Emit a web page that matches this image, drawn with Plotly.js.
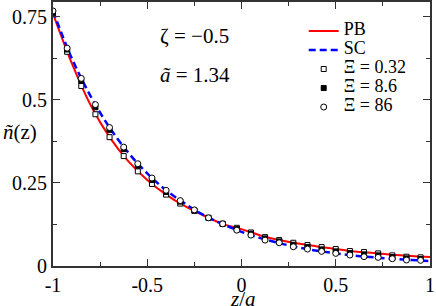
<!DOCTYPE html>
<html>
<head>
<meta charset="utf-8">
<script src="https://cdn.plot.ly/plotly-3.0.1.min.js"></script>
</head>
<body style="margin:0">
<div id="chart"></div>
<script>
// marker positions z/a
const zPts = [-1, -0.925, -0.85, -0.775, -0.7, -0.625, -0.55, -0.475, -0.4, -0.325, -0.25, -0.175, -0.1, -0.025,
  0.05, 0.125, 0.2, 0.275, 0.35, 0.425, 0.5, 0.575, 0.65, 0.725, 0.8, 0.875, 0.95];
// simulation data for three coupling values
const xi032 = [0.763, 0.645, 0.542, 0.457, 0.388, 0.331, 0.285, 0.247, 0.215, 0.188, 0.166, 0.145, 0.127, 0.115,
  0.101, 0.087, 0.078, 0.070, 0.063, 0.057, 0.051, 0.045, 0.042, 0.038, 0.032, 0.028, 0.026];
const xi86s = [0.765, 0.652, 0.557, 0.478, 0.410, 0.352, 0.302, 0.259, 0.223, 0.194, 0.167, 0.145, 0.127, 0.111,
  0.097, 0.083, 0.074, 0.064, 0.057, 0.050, 0.044, 0.039, 0.035, 0.032, 0.027, 0.023, 0.021];
const xi86 = [0.768, 0.656, 0.565, 0.486, 0.417, 0.358, 0.308, 0.265, 0.228, 0.197, 0.169, 0.145, 0.127, 0.108,
  0.093, 0.078, 0.070, 0.058, 0.051, 0.044, 0.038, 0.033, 0.028, 0.026, 0.022, 0.018, 0.017];
// theory curves
const zLine = [-1, -0.9, -0.8, -0.7, -0.6, -0.5, -0.4, -0.3, -0.2, -0.1, 0, 0.1, 0.2, 0.3, 0.4, 0.5, 0.6, 0.7, 0.8, 0.9, 1];
const pbN = [0.760, 0.610, 0.484, 0.388, 0.315, 0.259, 0.215, 0.180, 0.152, 0.127, 0.111, 0.092, 0.078, 0.068,
  0.059, 0.051, 0.044, 0.039, 0.034, 0.030, 0.027];
const scN = [0.768, 0.625, 0.511, 0.417, 0.341, 0.279, 0.228, 0.188, 0.153, 0.126, 0.103, 0.084, 0.069, 0.056,
  0.046, 0.038, 0.031, 0.026, 0.022, 0.018, 0.015];
const xTickVals = [-1, -0.5, 0, 0.5, 1];
const xTickText = ['-1', '-0.5', '0', '0.5', '1'];
const yTickVals = [0, 0.25, 0.5, 0.75];
const yTickText = ['0', '0.25', '0.5', '0.75'];
const names = ['PB', 'SC', 'Ξ = 0.32', 'Ξ = 8.6', 'Ξ = 86'];

const serif = 'Liberation Serif';
const lg = t => '<span style="font-size:18px">' + t + '</span>';

const traces = [
  {x: zLine, y: pbN, mode: 'lines', name: lg(names[0]), line: {color: '#ff0000', width: 2, shape: 'spline'}},
  {x: zLine, y: scN, mode: 'lines', name: lg(names[1]), line: {color: '#0000ff', width: 2.5, dash: '7px,4px', shape: 'spline'}},
  {x: zPts, y: xi032, mode: 'markers', name: lg(names[2]),
   marker: {symbol: 'square', size: 5, color: '#ffffff', line: {color: '#000', width: 1}}},
  {x: zPts, y: xi86s, mode: 'markers', name: lg(names[3]),
   marker: {symbol: 'square', size: 5, color: '#000', line: {color: '#000', width: 1}}},
  {x: zPts, y: xi86, mode: 'markers', name: lg(names[4]),
   marker: {symbol: 'circle', size: 6, color: '#ffffff', line: {color: '#000', width: 1}}}
];

const layout = {
  width: 436, height: 306,
  margin: {l: 53, r: 6, t: 2, b: 40},
  font: {family: serif},
  showlegend: true,
  legend: {x: 0.665, y: 0.945, xanchor: 'left', yanchor: 'top', bgcolor: 'rgba(0,0,0,0)',
    font: {family: serif, size: 11, color: '#000'}, tracegroupgap: 0},
  xaxis: {range: [-1, 1], tickmode: 'array', tickvals: xTickVals, ticktext: xTickText,
    showgrid: false, zeroline: false, showline: true, linecolor: '#333', linewidth: 2,
    mirror: 'ticks', ticks: 'inside', ticklen: 7, tickwidth: 1, tickcolor: '#333',
    tickfont: {family: serif, size: 20, color: '#000'},
    minor: {ticks: 'inside', ticklen: 4, tickwidth: 1, tickcolor: '#333', dtick: 0.25, tick0: 0}},
  yaxis: {range: [0, 0.795], tickmode: 'array', tickvals: yTickVals, ticktext: yTickText,
    showgrid: false, zeroline: false, showline: true, linecolor: '#333', linewidth: 2,
    mirror: 'ticks', ticks: 'inside', ticklen: 7, tickwidth: 1, tickcolor: '#333',
    tickfont: {family: serif, size: 20, color: '#000'},
    minor: {ticks: 'inside', ticklen: 4, tickwidth: 1, tickcolor: '#333', dtick: 0.125, tick0: 0}},
  annotations: [
    {xref: 'paper', yref: 'paper', x: 0.2785, y: 0.871, xanchor: 'left', yanchor: 'middle', showarrow: false,
     text: 'ζ = −0.5', font: {family: serif, size: 21, color: '#000'}},
    {xref: 'paper', yref: 'paper', x: 0.2785, y: 0.723, xanchor: 'left', yanchor: 'middle', showarrow: false,
     text: '<i>ã</i> = 1.34', font: {family: serif, size: 21, color: '#000'}},
    {xref: 'paper', yref: 'paper', x: -0.0875, y: 0.508, xanchor: 'center', yanchor: 'middle', showarrow: false,
     text: '<i>ñ</i>(z)', font: {family: serif, size: 21, color: '#000'}},
    {xref: 'paper', yref: 'paper', x: 0.504, y: -0.125, xanchor: 'center', yanchor: 'middle', showarrow: false,
     text: '<i>z</i>/<i>a</i>', font: {family: serif, size: 21, color: '#000'}}
  ]
};

Plotly.newPlot('chart', traces, layout, {staticPlot: true});
</script>
</body>
</html>
